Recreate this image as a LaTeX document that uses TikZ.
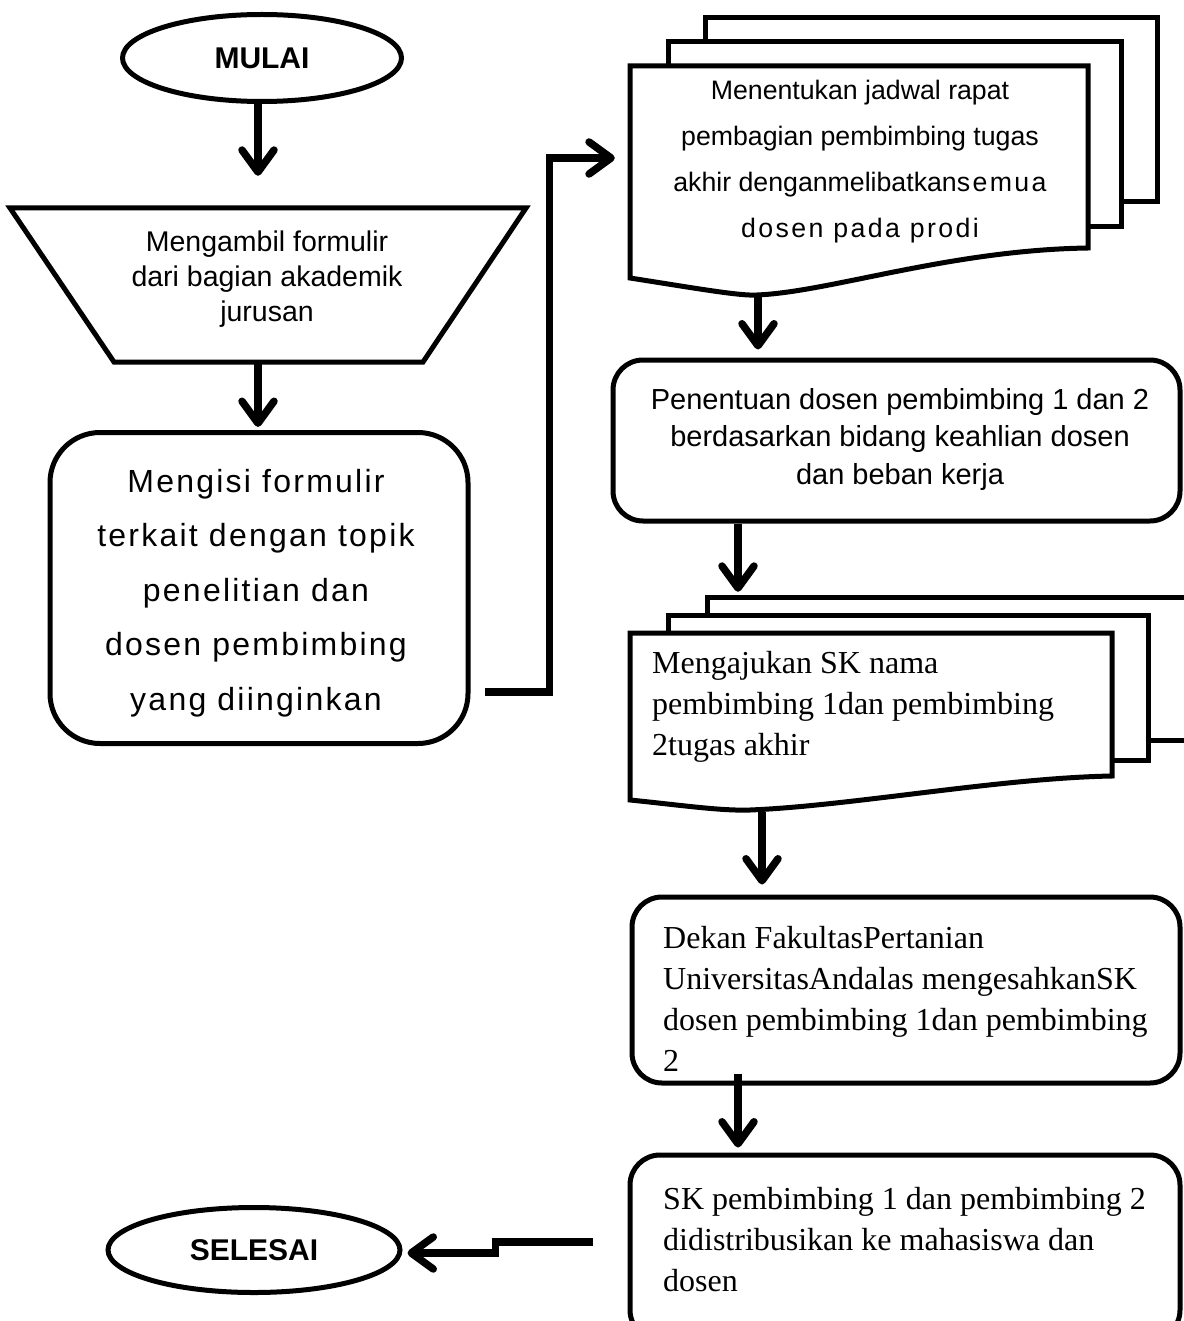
\documentclass[tikz,border=0pt]{standalone}
\usepackage{fontspec}
\setmainfont{Liberation Serif}
\newfontfamily\sansf{Liberation Sans}
\newfontfamily\sansls[LetterSpace=7]{Liberation Sans}
\newfontfamily\sanslt[LetterSpace=9]{Liberation Sans}
\usetikzlibrary{arrows.meta,shapes.geometric,calc}
\begin{document}
\begin{tikzpicture}[x=1pt,y=-1pt]
\useasboundingbox (0,0) rectangle (1183,1321);
\tikzset{
  outl/.style={draw, line width=5pt, fill=white, line join=miter},
  rbox/.style={draw, line width=5pt, fill=white, rounded corners=30pt, inner sep=0pt},
  oval/.style={draw, ellipse, line width=5pt, fill=white, inner sep=0pt, font=\sansf\bfseries\fontsize{30}{36}\selectfont},
  holder/.style={inner sep=0pt},
  ctext/.style={inner sep=0pt, align=center, anchor=north},
  ltext/.style={inner sep=0pt, align=left, anchor=north west, font=\fontsize{32}{41}\selectfont},
  arr/.style={line width=7.5pt, -{Straight Barb[round, length=22pt, width=32pt]}}
}
% ---------- left column ----------
\node[oval, minimum width=279pt, minimum height=87pt] (mulai) at (262,58) {MULAI};

\node[holder, minimum width=516pt, minimum height=154pt] (trap) at (268,285) {};
\draw[outl] (10,208) -- (526,208) -- (423,362) -- (114,362) -- cycle;
\node[ctext, font=\sansf\fontsize{28.5}{35}\selectfont] (t1) at (267,231)
  {Mengambil formulir\\dari bagian akademik\\jurusan};

\node[rbox, rounded corners=50pt, minimum width=418pt, minimum height=311pt] (mengisi) at (259,588) {};
\node[ctext, font=\sansls\fontsize{32}{54.5}\selectfont] (t2) at (256,469)
  {Mengisi formulir\\terkait dengan topik\\penelitian dan\\dosen pembimbing\\yang diinginkan};

\node[oval, minimum width=292pt, minimum height=85pt] (selesai) at (254,1250) {SELESAI};

% ---------- document stack 1 ----------
\draw[outl] (705,18) rectangle (1157,202);
\draw[outl] (668,42) rectangle (1121,227);
\node[holder, minimum width=458pt, minimum height=227pt] (doc1) at (859,179.5) {};
\draw[outl] (630,66) -- (1088,66) -- (1088,248)
  .. controls (950,250) and (830,292) .. (757,295)
  .. controls (740,296) and (700,289) .. (630,278) -- cycle;
\node[ctext, font=\sansf\fontsize{26.7}{46}\selectfont] (t3) at (860,80)
  {Menentukan jadwal rapat\\pembagian pembimbing tugas\\akhir denganmelibatkan{\sanslt semua}\\{\sanslt dosen pada prodi}};

% ---------- Penentuan ----------
\node[rbox, minimum width=567pt, minimum height=161pt] (pen) at (896.5,440.5) {};
\node[ctext, font=\sansf\fontsize{29}{37.5}\selectfont] (t4) at (900,388)
  {Penentuan dosen pembimbing 1 dan 2\\berdasarkan bidang keahlian dosen\\dan beban kerja};

% ---------- document stack 2 ----------
\draw[outl] (707,597) rectangle (1195,740);
\draw[outl] (668,615) rectangle (1148,760);
\node[holder, minimum width=482pt, minimum height=179pt] (doc2) at (871,722.5) {};
\draw[outl] (630,633) -- (1112,633) -- (1112,776)
  .. controls (1000,778) and (850,806) .. (750,810)
  .. controls (720,811) and (680,805) .. (630,800) -- cycle;
\node[ltext] (t5) at (652,651)
  {Mengajukan SK nama\\pembimbing 1dan pembimbing\\2tugas akhir};

% ---------- Dekan ----------
\node[rbox, minimum width=548pt, minimum height=186pt] (dekan) at (906,990) {};
\node[ltext] (t6) at (663,926)
  {Dekan FakultasPertanian\\UniversitasAndalas mengesahkanSK\\dosen pembimbing 1dan pembimbing\\2};

% ---------- SK ----------
\node[rbox, minimum width=550pt, minimum height=185pt] (sk) at (905,1247.5) {};
\node[ltext] (t7) at (663,1187)
  {SK pembimbing 1 dan pembimbing 2\\didistribusikan ke mahasiswa dan\\dosen};

% ---------- connectors ----------
\draw[arr] ($(mulai.south)+(-4,0)$) -- ($(trap.north)+(-10,-32)$);
\draw[arr] ($(trap.south)+(-10,0)$) -- ($(mengisi.north)+(-1,-3)$);
\draw[arr] ($(mengisi.east)+(14,104)$) -- ($(mengisi.east)+(79,104)$) |- ($(doc1.west)+(-15,-21.5)$);
\draw[arr] ($(doc1.south)+(-101,0)$) -- ($(pen.north)+(-138.5,-8)$);
\draw[arr] ($(pen.south)+(-158.5,0)$) -- ($(doc2.north)+(-133,-41)$);
\draw[arr] ($(doc2.south)+(-109,0)$) -- ($(dekan.north)+(-144,-10)$);
\draw[arr] ($(dekan.south)+(-168,-12)$) -- ($(sk.north)+(-167,-5)$);
\draw[arr] ($(sk.west)+(-35,-5.5)$) -- ($(sk.west)+(-132,-5.5)$) |- ($(selesai.east)+(5,3)$);
\end{tikzpicture}
\end{document}
